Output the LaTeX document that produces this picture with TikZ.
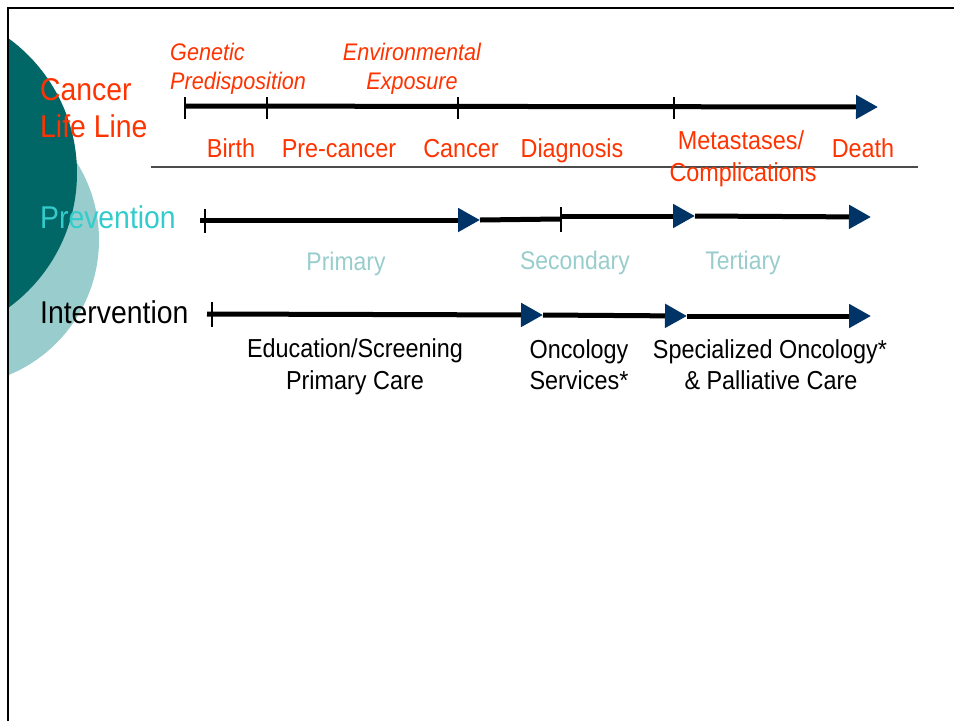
\documentclass[tikz,border=0pt]{standalone}
\usepackage{fontspec}
\setmainfont{Liberation Sans}[FakeStretch=0.9]
\usetikzlibrary{arrows.meta}

\definecolor{lifered}{HTML}{FF3300}
\definecolor{prevteal}{HTML}{33CCCC}
\definecolor{paleteal}{HTML}{99CCCC}
\definecolor{deepteal}{HTML}{006666}
\definecolor{tipblue}{HTML}{003366}

\tikzset{
  heading/.style={anchor=base west, inner sep=0pt, font=\fontsize{31.5}{36}\selectfont},
  stage/.style={anchor=base, inner sep=0pt, font=\fontsize{26}{30}\selectfont},
  factor/.style={inner sep=0pt, text=lifered, font=\fontsize{24}{28}\selectfont\itshape},
  phase/.style={anchor=base, inner sep=0pt, text=paleteal, font=\fontsize{25.5}{30}\selectfont},
  timeline/.style={line width=5pt},
  headed/.style={timeline, -{Triangle[length=22pt 0, width=23pt 0, color=tipblue]}},
  tickmark/.style={line width=1.5pt},
}

\begin{document}
\begin{tikzpicture}[x=1pt, y=-1pt]
    \useasboundingbox (0,0) rectangle (954,721);

    % circles behind the headings
    \begin{scope}
      \clip (8,0) rectangle (954,721);
      \fill [paleteal] (-47,240) circle [radius=146pt];
      \fill [deepteal] (-89.6,173) circle [radius=166.6pt];
    \end{scope}
    \draw [line width=2.5pt] (954,8) -- (8,8) -- (8,721);

    % headings
    \node [heading, text=lifered] (cancer) at (40,100) {Cancer};
    \node [heading, text=lifered] (lifeline) at (40,137) {Life Line};
    \node [heading, text=prevteal] (prevention) at (40,228) {Prevention};
    \node [heading] (intervention) at (40,323) {Intervention};

    % cancer life line
    \coordinate (r0) at (185,106);
    \coordinate (r1) at (878,107);
    \draw [headed] (r0) -- (r1);
    \foreach \x in {185,267,458,674}
      \draw [tickmark] (\x,97) -- (\x,119);

    \node [factor, anchor=base west] (genetic) at (170,60) {Genetic};
    \node [factor, anchor=base west] (predisp) at (170,89) {Predisposition};
    \node [factor, anchor=base] (environ) at (412,60) {Environmental};
    \node [factor, anchor=base] (exposure) at (412,89) {Exposure};

    \draw [line width=1.5pt, gray!60!black] (151,167) -- (918,167);

    \node [stage, text=lifered] (birth) at (231,157) {Birth};
    \node [stage, text=lifered] (precancer) at (339,157) {Pre-cancer};
    \node [stage, text=lifered] (cancerpt) at (461,157) {Cancer};
    \node [stage, text=lifered] (diagnosis) at (572,157) {Diagnosis};
    \node [stage, text=lifered] (metastases) at (741,149) {Metastases/};
    \node [stage, text=lifered] (complic) at (743,181) {Complications};
    \node [stage, text=lifered] (death) at (863,157) {Death};

    % prevention
    \coordinate (p0) at (200,220);
    \coordinate (p1) at (480,220);
    \coordinate (p2) at (560,219);
    \coordinate (p3) at (561,216);
    \coordinate (p4) at (695,216);
    \coordinate (p5) at (871,217);
    \draw [headed] (p0) -- (p1);
    \draw [timeline] (p1) -- (p2);
    \draw [headed] (p3) -- (p4);
    \draw [headed] (p4) -- (p5);
    \draw [tickmark] (205,209) -- (205,233);
    \draw [tickmark] (561,207) -- (561,232);

    \node [phase] (primary) at (346,270) {Primary};
    \node [phase] (secondary) at (575,269) {Secondary};
    \node [phase] (tertiary) at (743,269) {Tertiary};

    % intervention
    \coordinate (q0) at (207,314);
    \coordinate (q1) at (543,315);
    \coordinate (q2) at (687,316);
    \coordinate (q3) at (871,316);
    \draw [headed] (q0) -- (q1);
    \draw [headed] (q1) -- (q2);
    \draw [headed] (q2) -- (q3);
    \draw [tickmark] (212,302) -- (212,327);

    \node [stage] (education) at (355,357) {Education/Screening};
    \node [stage] (primcare) at (355,389) {Primary Care};
    \node [stage] (oncology) at (579,358) {Oncology};
    \node [stage] (services) at (579,389) {Services*};
    \node [stage] (special) at (770,358) {Specialized Oncology*};
    \node [stage] (palliative) at (771,389) {\& Palliative Care};
\end{tikzpicture}
\end{document}
